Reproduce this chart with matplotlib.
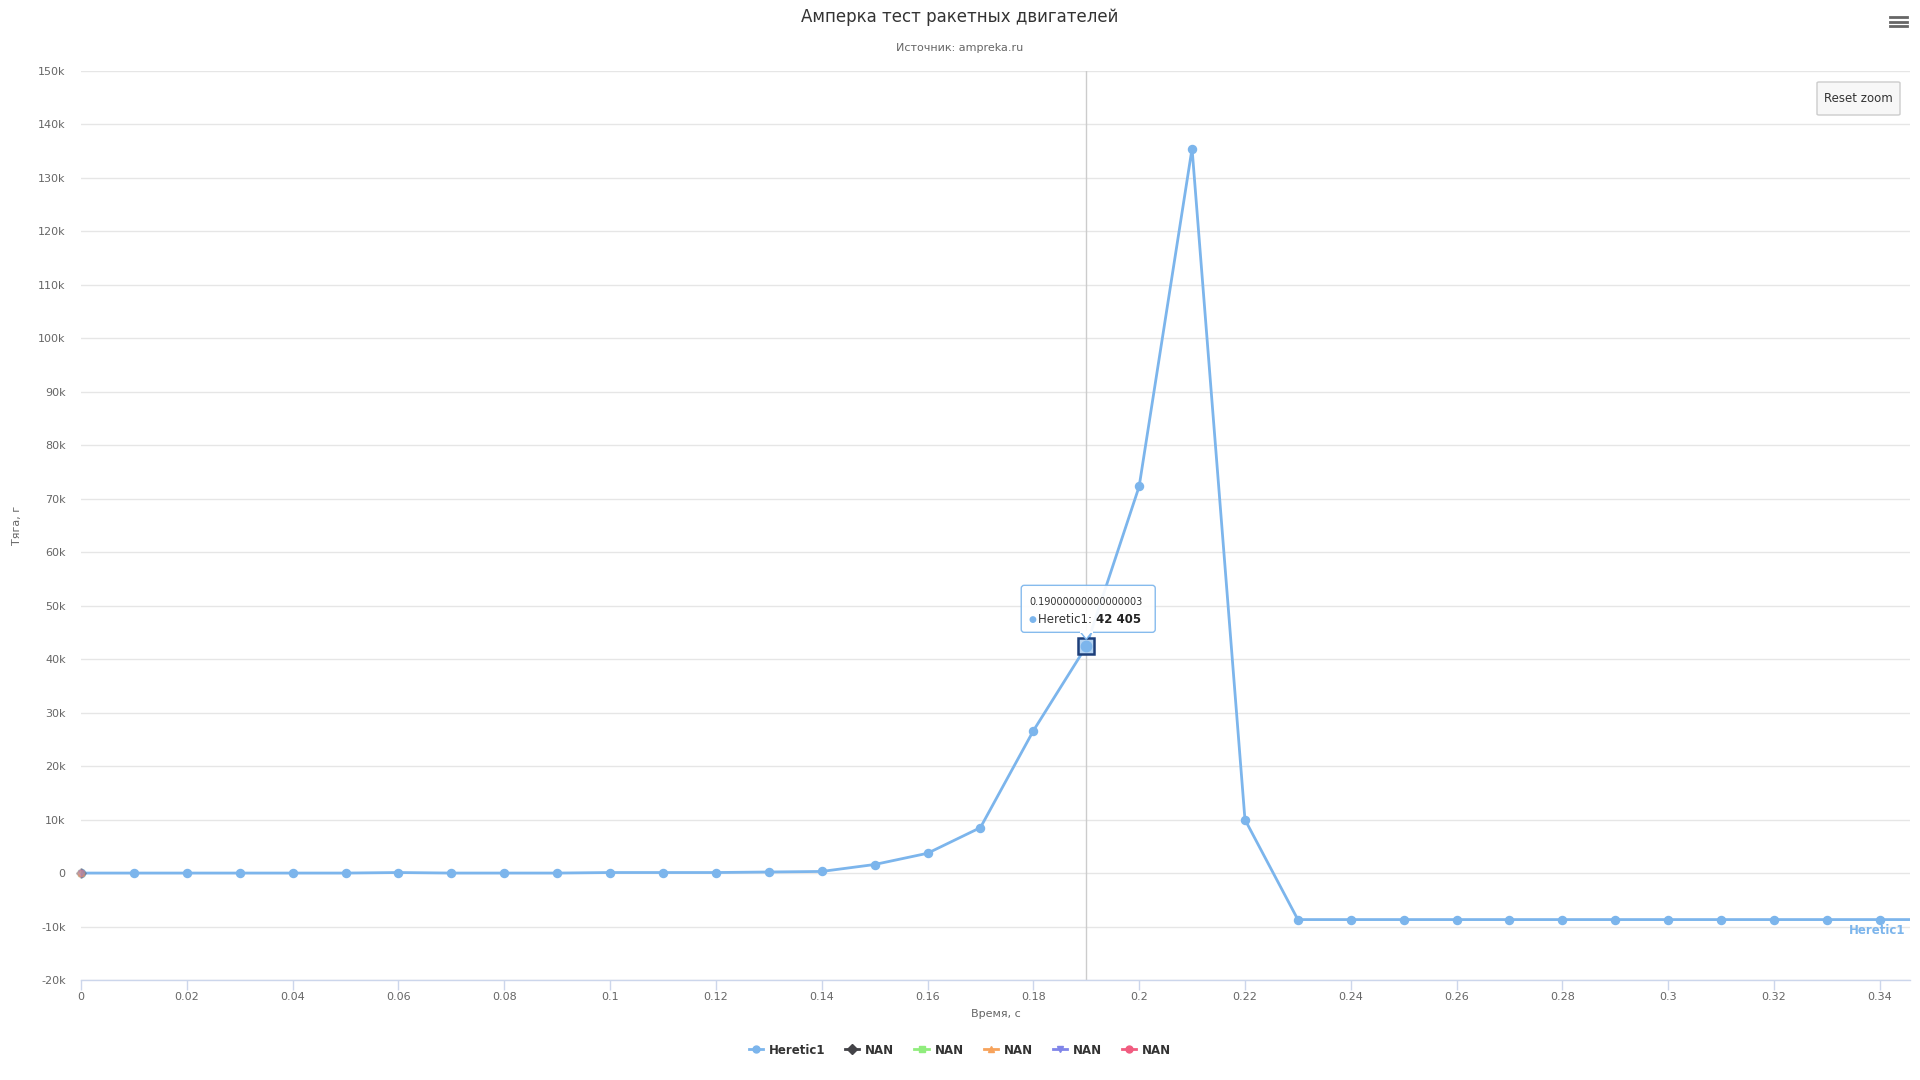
import matplotlib
matplotlib.use("Agg")
import matplotlib.pyplot as plt
import matplotlib.transforms as mtransforms
from matplotlib.lines import Line2D
from matplotlib.patches import FancyBboxPatch, Polygon
from matplotlib.ticker import FuncFormatter, MultipleLocator

plt.rcParams['font.family'] = ['DejaVu Sans']

title = "Амперка тест ракетных двигателей"
subtitle = "Источник: ampreka.ru"
x_label = "Время, с"
y_label = "Тяга, г"

# thrust readings, one every 10 ms
time_s = [0.0, 0.01, 0.02, 0.03, 0.04, 0.05, 0.06, 0.07, 0.08, 0.09,
          0.1, 0.11, 0.12, 0.13, 0.14, 0.15, 0.16, 0.17, 0.18, 0.19,
          0.2, 0.21, 0.22, 0.23, 0.24, 0.25, 0.26, 0.27, 0.28, 0.29,
          0.3, 0.31, 0.32, 0.33, 0.34, 0.35]
thrust_g = [0, 0, 0, 0, 0, 0, 100, 0, 0, 0,
            100, 100, 100, 200, 300, 1600, 3700, 8500, 26600, 42405,
            72300, 135500, 10000, -8700, -8700, -8700, -8700, -8700, -8700, -8700,
            -8700, -8700, -8700, -8700, -8700, -8700]
series_name = "Heretic1"
series_color = '#7cb5ec'

# empty series, only a point at the origin
nan_names = ["NAN", "NAN", "NAN", "NAN", "NAN"]
nan_colors = ['#434348', '#90ed7d', '#f7a35c', '#8085e9', '#f15c80']
nan_markers = ['D', 's', '^', 'v', 'o']
nan_x = [0]
nan_y = [0]

hover_time = 0.19000000000000003
hover_value = 42405

W, H = 1920, 1080
fig = plt.figure(figsize=(W / 100, H / 100), dpi=100)
ax = fig.add_axes([81 / W, 1 - 980 / H, (1910 - 81) / W, (980 - 71) / H])

ax.set_xlim(0, 0.3457)
ax.set_ylim(-20000, 150000)

ax.axvline(hover_time, color='#cccccc', lw=1, zorder=1)

ax.plot(time_s, thrust_g, color=series_color, lw=2, marker='o', ms=5.8,
        mec=series_color, zorder=3, clip_on=True)
for c, m in zip(nan_colors, nan_markers):
    ax.plot(nan_x, nan_y, color=c, marker=m, ms=5, ls='none', alpha=0.3,
            zorder=4, clip_on=False)

# hovered point
ax.plot([hover_time], [hover_value], marker='s', ms=11, mfc='#b5d3f1',
        mec='#1d3f7a', mew=1.8, zorder=5)
ax.plot([hover_time], [hover_value], marker='o', ms=7.5, mfc=series_color,
        mec=series_color, zorder=6)

# axes styling
for s in ['top', 'right', 'left']:
    ax.spines[s].set_visible(False)
ax.spines['bottom'].set_color('#ccd6eb')
ax.spines['bottom'].set_linewidth(1)
ax.yaxis.set_major_locator(MultipleLocator(10000))
ax.xaxis.set_major_locator(MultipleLocator(0.02))
ax.yaxis.set_major_formatter(FuncFormatter(
    lambda v, p: "0" if v == 0 else f"{int(round(v / 1000))}k"))
ax.xaxis.set_major_formatter(FuncFormatter(lambda v, p: f"{round(v, 2):g}"))
ax.tick_params(axis='y', length=0, pad=11, labelsize=8, labelcolor='#666666')
ax.tick_params(axis='x', length=7, width=1, color='#ccd6eb', pad=2,
               labelsize=8, labelcolor='#666666')
ax.grid(axis='y', color='#e6e6e6', lw=1)
ax.set_axisbelow(True)

ax.set_xlabel(x_label, fontsize=8, color='#666666', labelpad=5)
ax.set_ylabel(y_label, fontsize=8, color='#666666')
ax.yaxis.set_label_coords((22 - 81) / 1829, 0.5)

fig.text(0.5, 1 - 17 / H, title, ha='center', va='center', fontsize=12,
         color='#333333')
fig.text(0.5, 1 - 48 / H, subtitle, ha='center', va='center', fontsize=8,
         color='#666666')

# series label at the right end
ax.text(0.9975, -10700, series_name, transform=ax.get_yaxis_transform(),
        ha='right', va='center', fontsize=8.5, fontweight='bold',
        color=series_color)

# legend
handles = [Line2D([], [], color=series_color, marker='o', ms=5, lw=2)]
labels = [series_name]
for n, c, m in zip(nan_names, nan_colors, nan_markers):
    handles.append(Line2D([], [], color=c, marker=m, ms=5, lw=2))
    labels.append(n)
leg = fig.legend(handles, labels, loc='center', bbox_to_anchor=(0.5, 1 - 1050 / H),
                 ncol=6, frameon=False, handlelength=1.2, handletextpad=0.5,
                 columnspacing=1.7, prop={'weight': 'bold', 'size': 8.5})
for t in leg.get_texts():
    t.set_color('#333333')

# tooltip (drawn inside the axes so its z-order stays above the series)
ident = mtransforms.IdentityTransform()
px, py = ax.transData.transform((hover_time, hover_value))
box = FancyBboxPatch((px - 65, py + 14), 134, 47,
                     boxstyle='round,pad=0,rounding_size=3',
                     fc='white', ec=series_color, lw=1, alpha=0.92,
                     transform=ident, zorder=10, clip_on=False)
ax.add_artist(box)
ptr = Polygon([(px - 6, py + 14.5), (px + 6, py + 14.5), (px, py + 7)],
              closed=True, fc='white', ec=series_color, lw=1, transform=ident,
              zorder=10, clip_on=False)
ax.add_artist(ptr)
ax.add_artist(Line2D([px - 5.5, px + 5.5], [py + 14, py + 14], color='white',
                     lw=1.5, transform=ident, zorder=11, clip_on=False))
ax.text(px - 57, py + 44, repr(hover_time), transform=ident, ha='left',
        va='center', fontsize=7, color='#333333', zorder=12, clip_on=False)
ax.text(px - 58, py + 27, "●", transform=ident, ha='left', va='center',
        fontsize=6.5, color=series_color, zorder=12, clip_on=False)
name_t = ax.text(px - 48, py + 27, f"{series_name}: ", transform=ident,
                 ha='left', va='center', fontsize=8.5, color='#333333',
                 zorder=12, clip_on=False)
val_str = f"{hover_value:,}".replace(",", " ")
ax.annotate(val_str, xy=(1, 0.5), xycoords=name_t, ha='left', va='center',
            fontsize=8.5, fontweight='bold', color='#222222', zorder=12,
            annotation_clip=False)

# reset zoom button
btn = FancyBboxPatch((1817 / W, 1 - 115 / H), 83 / W, 33 / H,
                     boxstyle='round,pad=0,rounding_size=0.001',
                     fc='#f7f7f7', ec='#cccccc', lw=1, transform=fig.transFigure)
fig.add_artist(btn)
fig.text(1858.5 / W, 1 - 98 / H, "Reset zoom", ha='center', va='center',
         fontsize=8.5, color='#333333')

# context menu icon
for yy in [17, 21.5, 26]:
    fig.add_artist(Line2D([1890 / W, 1907 / W], [1 - yy / H, 1 - yy / H],
                          color='#666666', lw=2, transform=fig.transFigure))

fig.savefig("out.png", dpi=100, facecolor='white')
